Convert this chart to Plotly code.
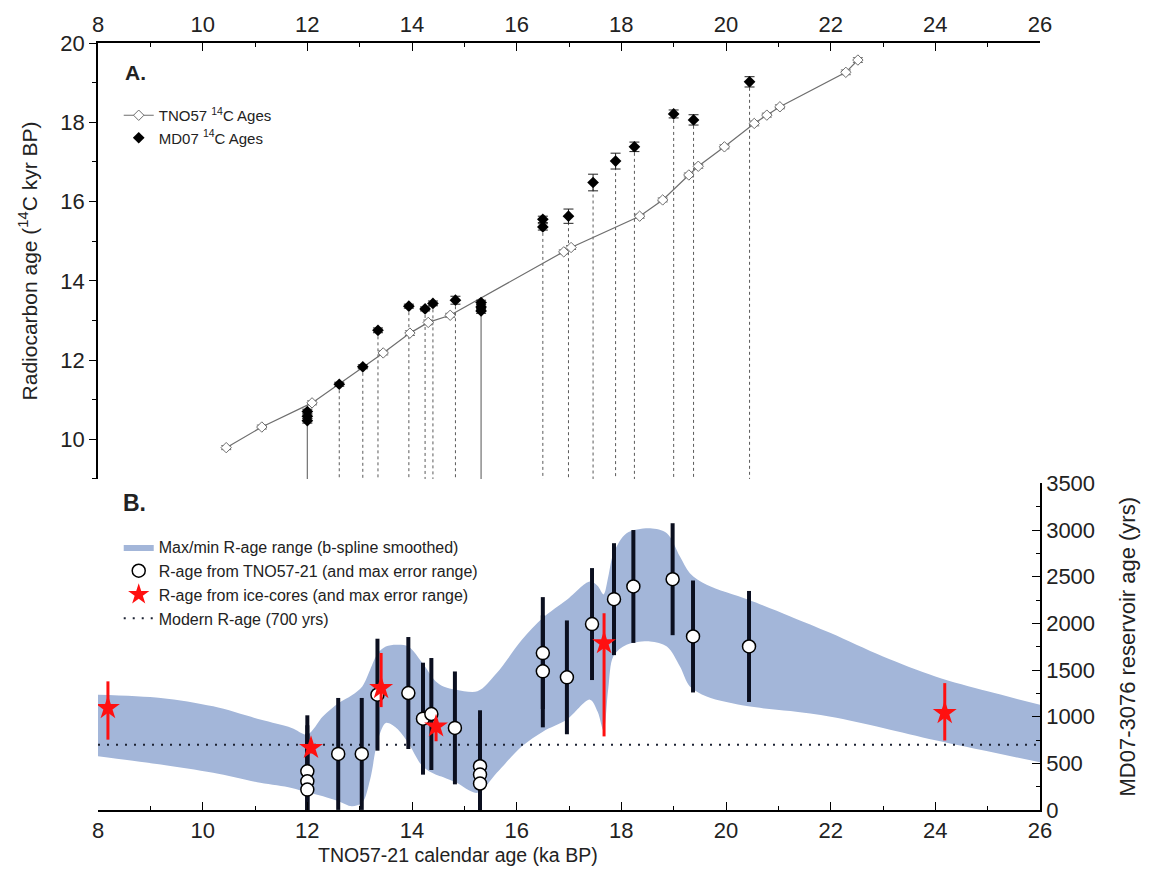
import plotly.graph_objects as go

# ---------------- Panel A data (14C ages, kyr BP) ----------------
tno_x = [10.45, 11.13, 12.09, 13.45, 13.96, 14.31, 14.73, 16.90, 17.04, 18.35,
         18.79, 19.29, 19.47, 19.97, 20.54, 20.78, 21.03, 22.29, 22.52]
tno_y = [9.79, 10.31, 10.92, 12.18, 12.68, 12.95, 13.13, 14.73, 14.84, 15.63,
         16.04, 16.67, 16.89, 17.38, 17.97, 18.18, 18.39, 19.26, 19.57]
tno_err = [0.05, 0.05, 0.05, 0.05, 0.06, 0.06, 0.05, 0.05, 0.05, 0.05,
           0.05, 0.05, 0.05, 0.05, 0.06, 0.05, 0.05, 0.06, 0.06]

md_x = [12.0, 12.0, 12.0, 12.61, 13.06, 13.35, 13.94, 14.25, 14.40, 14.83,
        15.32, 15.32, 15.32, 16.50, 16.50, 16.99, 17.46, 17.89, 18.25, 19.00,
        19.38, 20.45]
md_y = [10.70, 10.58, 10.47, 11.39, 11.83, 12.75, 13.36, 13.29, 13.43, 13.51,
        13.45, 13.34, 13.24, 15.55, 15.36, 15.63, 16.48, 17.02, 17.38, 18.21,
        18.06, 19.02]
md_err = [0.06, 0.06, 0.06, 0.05, 0.05, 0.06, 0.05, 0.05, 0.06, 0.10,
          0.06, 0.06, 0.06, 0.08, 0.08, 0.18, 0.21, 0.20, 0.12, 0.10,
          0.13, 0.13]

# ---------------- Panel B data (reservoir age, yrs) ----------------
band_x = [8.0, 9.2, 10.2, 11.1, 11.7, 12.0, 12.3, 12.6, 12.85, 13.05, 13.2, 13.35,
          13.5, 13.7, 13.93, 14.2, 14.45, 14.6, 14.85, 15.25, 15.62, 16.1, 16.5,
          16.96, 17.4, 17.55, 17.66, 17.75, 17.85, 18.1, 18.55, 18.87, 19.12,
          19.31, 19.63, 20.43, 21.23, 22.0, 23.0, 24.0, 25.0, 26.0]
band_upper = [1236, 1201, 1111, 969, 880, 810, 1004, 1147, 1230, 1325, 1504, 1682,
              1753, 1771, 1753, 1575, 1380, 1325, 1290, 1272, 1468, 1825, 2060,
              2253, 2449, 2400, 2310, 2500, 2750, 2967, 3020, 2967, 2717,
              2539, 2414, 2253, 2075, 1897, 1646, 1432, 1272, 1129]
band_lower = [576, 487, 398, 291, 237, 190, 148, 94, 40, 80, 326, 755,
              933, 880, 719, 469, 380, 350, 291, 184, 398, 683, 840,
              969, 1183, 1050, 850, 1300, 1650, 1771, 1807, 1753, 1539,
              1325, 1218, 1111, 1060, 1000, 880, 747, 629, 512]

circ_x = [12.0, 12.0, 12.0, 12.59, 13.04, 13.34, 13.93, 14.21, 14.37, 14.82,
          15.3, 15.3, 15.3, 16.5, 16.5, 16.96, 17.44, 17.86, 18.23, 18.98,
          19.37, 20.44]
circ_y = [415, 308, 219, 601, 601, 1236, 1254, 979, 1029, 880,
          469, 380, 284, 1682, 1486, 1422, 1993, 2260, 2396, 2474,
          1860, 1753]
circ_err = [600, 600, 600, 600, 600, 600, 600, 600, 600, 605,
            600, 600, 600, 600, 600, 610, 600, 600, 605, 600,
            600, 595]

star_x = [8.19, 12.07, 13.41, 14.46, 17.67, 24.18]
star_y = [1094, 666, 1308, 897, 1789, 1040]
star_err_plus = [285, 60, 375, 75, 320, 320]
star_err_minus = [340, 60, 205, 160, 1000, 295]

modern_r_age = 700

x_range = [8, 26]
yA_range = [9, 20]
yB_range = [0, 3500]

FONT = "Liberation Sans, Arial, sans-serif"
TXT = "#222222"

fig = go.Figure()

# ---------------- Panel A ----------------
# drop lines from MD07 points to the panel bottom
groups = {}
for xv, yv in zip(md_x, md_y):
    groups.setdefault(xv, []).append(yv)
dash_x, dash_y, sol_x, sol_y = [], [], [], []
for xv, ys in groups.items():
    if len(ys) >= 3:
        sol_x += [xv, xv, None]
        sol_y += [min(ys), yA_range[0], None]
    else:
        dash_x += [xv, xv, None]
        dash_y += [min(ys), yA_range[0], None]
fig.add_trace(go.Scatter(x=dash_x, y=dash_y, mode="lines", xaxis="x2", yaxis="y2",
                         line=dict(color="#5a5a5a", width=1, dash="3px,3px"),
                         showlegend=False, hoverinfo="skip"))
fig.add_trace(go.Scatter(x=sol_x, y=sol_y, mode="lines", xaxis="x2", yaxis="y2",
                         line=dict(color="#707070", width=1.2),
                         showlegend=False, hoverinfo="skip"))

fig.add_trace(go.Scatter(
    x=tno_x, y=tno_y, mode="lines+markers", xaxis="x2", yaxis="y2",
    name="TNO57 <sup>14</sup>C Ages", legend="legend", legendrank=1,
    line=dict(color="#6e6e6e", width=1.2),
    marker=dict(symbol="diamond", size=8, color="white",
                line=dict(color="#6e6e6e", width=1)),
    error_y=dict(type="data", array=tno_err, color="#6e6e6e", thickness=1, width=5)))

fig.add_trace(go.Scatter(
    x=md_x, y=md_y, mode="markers", xaxis="x2", yaxis="y2",
    name="MD07 <sup>14</sup>C Ages", legend="legend", legendrank=2,
    marker=dict(symbol="diamond", size=9, color="black"),
    error_y=dict(type="data", array=md_err, color="#222222", thickness=1, width=5)))

# ---------------- Panel B ----------------
band_color = "rgb(163,182,217)"
fig.add_trace(go.Scatter(x=band_x, y=band_lower, mode="lines", xaxis="x", yaxis="y",
                         line=dict(color=band_color, width=0, shape="spline", smoothing=0.9),
                         showlegend=False, hoverinfo="skip"))
fig.add_trace(go.Scatter(x=band_x, y=band_upper, mode="lines", xaxis="x", yaxis="y",
                         fill="tonexty", fillcolor=band_color,
                         line=dict(color=band_color, width=0, shape="spline", smoothing=0.9),
                         name="Max/min R-age range (b-spline smoothed)",
                         legend="legend2", legendrank=1))

fig.add_trace(go.Scatter(x=x_range, y=[modern_r_age, modern_r_age], mode="lines",
                         xaxis="x", yaxis="y",
                         line=dict(color="#1c2233", width=2, dash="2px,7px"),
                         name="Modern R-age (700 yrs)", legend="legend2", legendrank=4))

fig.add_trace(go.Scatter(
    x=circ_x, y=circ_y, mode="markers", xaxis="x", yaxis="y",
    name="R-age from TNO57-21 (and max error range)", legend="legend2", legendrank=2,
    marker=dict(symbol="circle", size=13, color="white", line=dict(color="black", width=1.5)),
    error_y=dict(type="data", array=circ_err, color="#0b0f1f", thickness=4, width=0)))

fig.add_trace(go.Scatter(
    x=star_x, y=star_y, mode="markers", xaxis="x", yaxis="y",
    name="R-age from ice-cores (and max error range)", legend="legend2", legendrank=3,
    marker=dict(symbol="star", size=18, color="#ff1010", line=dict(width=0)),
    error_y=dict(type="data", symmetric=False, array=star_err_plus,
                 arrayminus=star_err_minus, color="#ff1010", thickness=3, width=0)))

axis_common = dict(showline=True, linecolor="black", linewidth=1.5, showgrid=False,
                   zeroline=False, tickcolor="black", tickfont=dict(size=22, color=TXT))

fig.update_layout(
    width=1154, height=884,
    margin=dict(l=98, r=114, t=43, b=74),
    paper_bgcolor="white", plot_bgcolor="white",
    font=dict(family=FONT, color=TXT),
    xaxis=dict(domain=[0, 1], anchor="y", side="bottom", range=x_range,
               ticks="inside", ticklen=8, tick0=8, dtick=2,
               minor=dict(ticks="inside", ticklen=4, dtick=1, tickcolor="black"),
               **axis_common),
    yaxis=dict(domain=[0, 0.4257], anchor="x", side="right", range=yB_range,
               ticks="inside", ticklen=8, tick0=0, dtick=500,
               minor=dict(ticks="inside", ticklen=4, dtick=250, tickcolor="black"),
               title=dict(text="MD07-3076 reservoir age (yrs)", font=dict(size=22), standoff=26),
               **axis_common),
    xaxis2=dict(domain=[0, 1], anchor="y2", side="top", range=x_range,
                ticks="inside", ticklen=8, tick0=8, dtick=2,
                minor=dict(ticks="inside", ticklen=4, dtick=1, tickcolor="black"),
                **axis_common),
    yaxis2=dict(domain=[0.4316, 1], anchor="x2", side="left", range=yA_range,
                ticks="outside", ticklen=7, tick0=10, dtick=2,
                minor=dict(ticks="outside", ticklen=4, dtick=1, tickcolor="black"),
                title=dict(text="Radiocarbon age (<sup>14</sup>C kyr BP)", font=dict(size=21),
                           standoff=17),
                **axis_common),
    legend=dict(x=0.022, y=0.927, xanchor="left", yanchor="top", bgcolor="rgba(0,0,0,0)",
                font=dict(size=15, color=TXT), tracegroupgap=0, traceorder="normal"),
    legend2=dict(x=0.022, y=0.365, xanchor="left", yanchor="top", bgcolor="rgba(0,0,0,0)",
                 font=dict(size=16, color=TXT), tracegroupgap=0, traceorder="normal"),
    annotations=[
        dict(text="<b>A.</b>", x=0.0265, y=0.961, xref="paper", yref="paper",
             xanchor="left", yanchor="middle", showarrow=False, font=dict(size=21, color=TXT)),
        dict(text="<b>B.</b>", x=0.024, y=0.400, xref="paper", yref="paper",
             xanchor="left", yanchor="middle", showarrow=False, font=dict(size=23, color=TXT)),
        dict(text="TNO57-21 calendar age (ka BP)", x=0.382, y=-0.0587, xref="paper", yref="paper",
             xanchor="center", yanchor="middle", showarrow=False, font=dict(size=19.5, color=TXT)),
    ],
)

fig.write_html("out.html")
